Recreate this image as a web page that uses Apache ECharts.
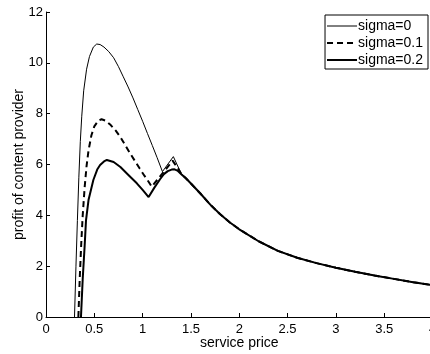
<!DOCTYPE html>
<html>
<head>
<meta charset="utf-8">
<script src="https://cdn.jsdelivr.net/npm/echarts@6/dist/echarts.min.js"></script>
<style>
  html, body { margin: 0; padding: 0; background: #fff; }
  #main { width: 430px; height: 354px; }
</style>
</head>
<body>
<div id="main"></div>
<script>
// curve points, [price, profit]
var sigma0Head = [
  [0.295, 0], [0.31, 2.0], [0.325, 3.8], [0.34, 5.5], [0.355, 6.9], [0.37, 7.9],
  [0.39, 8.9], [0.42, 9.75], [0.45, 10.25], [0.49, 10.62], [0.525, 10.74], [0.56, 10.72],
  [0.6, 10.62], [0.65, 10.44], [0.7, 10.2], [0.75, 9.85], [0.8, 9.45], [0.85, 9.05],
  [0.9, 8.62], [0.95, 8.16], [1.0, 7.7], [1.05, 7.22], [1.1, 6.75], [1.15, 6.27],
  [1.205, 5.72], [1.318, 6.31], [1.4, 5.64]
];
var sigma01Head = [
  [0.335, 0], [0.35, 1.6], [0.365, 2.9], [0.38, 4.0], [0.4, 5.1], [0.42, 5.95],
  [0.44, 6.55], [0.47, 7.15], [0.5, 7.5], [0.54, 7.72], [0.575, 7.78], [0.62, 7.72],
  [0.67, 7.55], [0.72, 7.34], [0.77, 7.08], [0.82, 6.76], [0.87, 6.44], [0.92, 6.14],
  [0.97, 5.84], [1.02, 5.55], [1.06, 5.33], [1.094, 5.13], [1.15, 5.39], [1.22, 5.72],
  [1.31, 6.15], [1.36, 5.88], [1.4, 5.63]
];
var sigma02Head = [
  [0.362, 0], [0.38, 1.5], [0.4, 2.8], [0.414, 3.8], [0.44, 4.6], [0.49, 5.39],
  [0.53, 5.8], [0.56, 5.98], [0.6, 6.12], [0.63, 6.18], [0.7, 6.1], [0.77, 5.9],
  [0.85, 5.6], [0.94, 5.26], [1.0, 5.0], [1.062, 4.72], [1.12, 5.08], [1.18, 5.42],
  [1.22, 5.62], [1.26, 5.74], [1.3, 5.8], [1.33, 5.81], [1.36, 5.76], [1.4, 5.62]
];
// shared decaying part
var tail = [
  [1.45, 5.45], [1.5, 5.25], [1.6, 4.85], [1.7, 4.42], [1.8, 4.05], [1.9, 3.73],
  [2.0, 3.45], [2.2, 2.98], [2.4, 2.6], [2.6, 2.33], [2.8, 2.12], [3.0, 1.94],
  [3.2, 1.78], [3.4, 1.63], [3.6, 1.5], [3.8, 1.37], [4.0, 1.25]
];
var names = ['sigma=0', 'sigma=0.1', 'sigma=0.2'];
var widths = [1, 2, 2];
var dashes = ['solid', [6, 4], 'solid'];

var font = 'Arial, "Liberation Sans", sans-serif';
var chart = echarts.init(document.getElementById('main'));

chart.setOption({
  animation: false,
  textStyle: { fontFamily: font, color: '#000' },
  grid: { left: 46, top: 12, width: 386.5, height: 305, outerBoundsMode: 'none', containLabel: false },
  legend: {
    data: names.map(function (n, i) {
      return { name: n, lineStyle: { width: widths[i], type: dashes[i], color: '#000' } };
    }),
    orient: 'vertical',
    right: 2,
    top: 15,
    itemWidth: 30,
    itemHeight: 14,
    itemGap: 3,
    padding: [4, 5, 2, 1],
    borderColor: '#000',
    borderWidth: 1,
    backgroundColor: '#fff',
    itemStyle: { opacity: 0 },
    textStyle: { fontFamily: font, fontSize: 14, color: '#000', padding: [0, 0, 0, -4] }
  },
  xAxis: {
    type: 'value',
    min: 0, max: 4, interval: 0.5,
    name: 'service price',
    nameLocation: 'middle',
    nameGap: 19,
    nameMoveOverlap: false,
    nameTextStyle: { fontSize: 14, color: '#000' },
    axisLine: { lineStyle: { color: '#000', width: 1 } },
    axisTick: { inside: true, length: 4, lineStyle: { color: '#000' } },
    axisLabel: { fontSize: 13, color: '#000', margin: 6, showMaxLabel: true },
    splitLine: { show: false }
  },
  yAxis: {
    type: 'value',
    min: 0, max: 12, interval: 2,
    name: 'profit of content provider',
    nameLocation: 'middle',
    nameGap: 20,
    nameMoveOverlap: false,
    nameTextStyle: { fontSize: 14, color: '#000' },
    axisLine: { show: true, lineStyle: { color: '#000', width: 1 } },
    axisTick: { show: true, inside: true, length: 4, lineStyle: { color: '#000' } },
    axisLabel: { fontSize: 13, color: '#000', margin: 3 },
    splitLine: { show: false }
  },
  series: names.map(function (n, i) {
    var head = [sigma0Head, sigma01Head, sigma02Head][i];
    return {
      name: n, type: 'line', symbol: 'none', clip: true,
      data: head.concat(tail),
      lineStyle: { color: '#000', width: widths[i], type: dashes[i] },
      itemStyle: { color: '#000' }
    };
  })
});
</script>
</body>
</html>
